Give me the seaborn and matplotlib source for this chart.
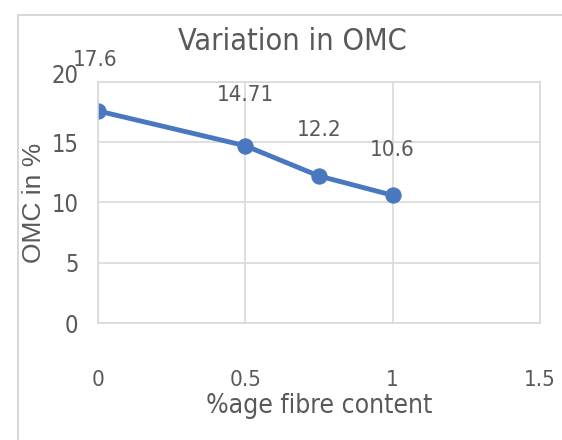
import matplotlib
matplotlib.use("Agg")
import matplotlib.pyplot as plt
import matplotlib.transforms as mtransforms
import seaborn as sns
import pandas as pd
from matplotlib.patches import Rectangle
from matplotlib import font_manager

# data
fibre = [0, 0.5, 0.75, 1]
omc = [17.6, 14.71, 12.2, 10.6]
point_labels = ["17.6", "14.71", "12.2", "10.6"]
x_ticks = [0, 0.5, 1, 1.5]
y_ticks = [0, 5, 10, 15, 20]

df = pd.DataFrame({"fibre": fibre, "omc": omc})

sns.set_theme(style="white")
names = {f.name for f in font_manager.fontManager.ttflist}
narrow = "Liberation Sans Narrow" if "Liberation Sans Narrow" in names else "DejaVu Sans"
plt.rcParams["font.family"] = [narrow, "DejaVu Sans"]
plt.rcParams["font.stretch"] = "condensed"

TXT = "#595959"
BLUE = "#4a78c0"
GRID = "#d9d9d9"

fig = plt.figure(figsize=(5.62, 4.4), dpi=100)
ax = fig.add_axes([98 / 562, 1 - 323 / 440, 442 / 562, 241 / 440])

# light outer frame of the chart box
fig.patches.append(Rectangle((18 / 562, -0.1), 1.2, 1 - 15 / 440 + 0.1,
                             transform=fig.transFigure, fill=False,
                             edgecolor="#d0d0d0", lw=1.2))

sns.lineplot(data=df, x="fibre", y="omc", ax=ax, color=BLUE, lw=3.5,
             marker="o", markersize=11, markeredgecolor=BLUE)

ax.set_xlim(0, 1.5)
ax.set_ylim(0, 20)
ax.set_xticks(x_ticks)
ax.set_yticks(y_ticks)
ax.set_xticklabels(["0", "0.5", "1", "1.5"], fontsize=16, color=TXT)
ax.set_yticklabels([str(v) for v in y_ticks], fontsize=17, color=TXT)
ax.tick_params(axis="x", length=0, pad=34)
ax.tick_params(axis="y", length=0, pad=14)
ax.grid(True, color=GRID, lw=1.2)
for s in ax.spines.values():
    s.set_color(GRID)
    s.set_linewidth(1.2)

# the top label "20" sits a little above its gridline in the original
top_lab = ax.get_yticklabels()[-1]
top_lab.set_transform(top_lab.get_transform() +
                      mtransforms.ScaledTranslation(0, 0.08, fig.dpi_scale_trans))

offsets = [(-0.01, 3.4), (0.0, 3.4), (0.0, 3.0), (0.0, 2.9)]
for xv, yv, lab, (dx, dy) in zip(fibre, omc, point_labels, offsets):
    ax.text(xv + dx, yv + dy, lab, ha="center", va="bottom",
            fontsize=16, color=TXT)

ax.set_xlabel("%age fibre content", fontsize=19, color=TXT, labelpad=2)
ax.set_ylabel("OMC in %", fontsize=19, color=TXT, labelpad=4,
              family=["Liberation Sans", "DejaVu Sans"], stretch="normal")
fig.text(292 / 562, 1 - 42 / 440, "Variation in OMC", ha="center",
         va="center", fontsize=22, color=TXT)

fig.savefig("out.png", dpi=100)
